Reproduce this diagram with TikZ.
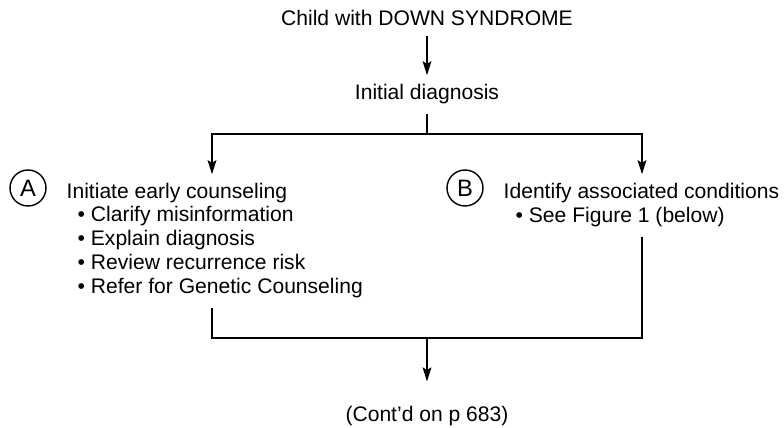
\documentclass[tikz,border=0pt]{standalone}
\usepackage{fontspec}
\setmainfont{Liberation Sans}
\usepackage{tikz}
\usetikzlibrary{arrows.meta,positioning,calc}

\begin{document}
\begin{tikzpicture}[x=0.02cm,y=-0.02cm,line width=0.8pt,
  txt/.style={font=\fontsize{12}{14}\selectfont,inner xsep=0pt,inner ysep=5pt},
  tag/.style={circle,draw,minimum size=0.72cm,inner sep=0pt,font=\fontsize{13.5}{15}\selectfont},
  arr/.style={-{Stealth[length=8pt,width=5pt,inset=1.5pt]}}]

\useasboundingbox (0,0) rectangle (784,428);

\node[txt,anchor=base] (child) at (427,26) {Child with DOWN SYNDROME};
\node[txt,anchor=base] (diag) at (427,100) {Initial diagnosis};

  \node[tag] (acirc) at (28,188) {A};
  \node[txt,anchor=base west] (ahead) at (66,199) {Initiate early counseling};
  \node[txt,anchor=base west] (a1) at (77,222) {\textbullet\ Clarify misinformation};
  \node[txt,anchor=base west] (a2) at (77,246) {\textbullet\ Explain diagnosis};
  \node[txt,anchor=base west] (a3) at (77,270) {\textbullet\ Review recurrence risk};
  \node[txt,anchor=base west] (a4) at (77,294) {\textbullet\ Refer for Genetic Counseling};

  \node[tag] (bcirc) at (465,188) {B};
  \node[txt,anchor=base west] (bhead) at (503,199) {Identify associated conditions};
  \node[txt,anchor=base west] (b1) at (515,223) {\textbullet\ See Figure 1 (below)};

\node[txt,anchor=base,inner ysep=14pt] (cont) at (427,422) {(Cont'd on p 683)};

  \coordinate (fork) at (427,134);
  \coordinate (aturn) at (212,134);
  \coordinate (bturn) at (642,134);
  \coordinate (join) at (427,338);

  \draw[arr] (child) -- (diag);
  \draw (diag) -- (fork);
  \draw[arr] (fork) -- (aturn) -- (aturn |- ahead.north);
  \draw[arr] (fork) -- (bturn) -- (bturn |- bhead.north);
  % both branches meet again below
  \draw (aturn |- a4.south) |- (join) -| (bturn |- b1.south);
  \draw[arr] (join) -- (cont);
 \end{tikzpicture}
\end{document}
